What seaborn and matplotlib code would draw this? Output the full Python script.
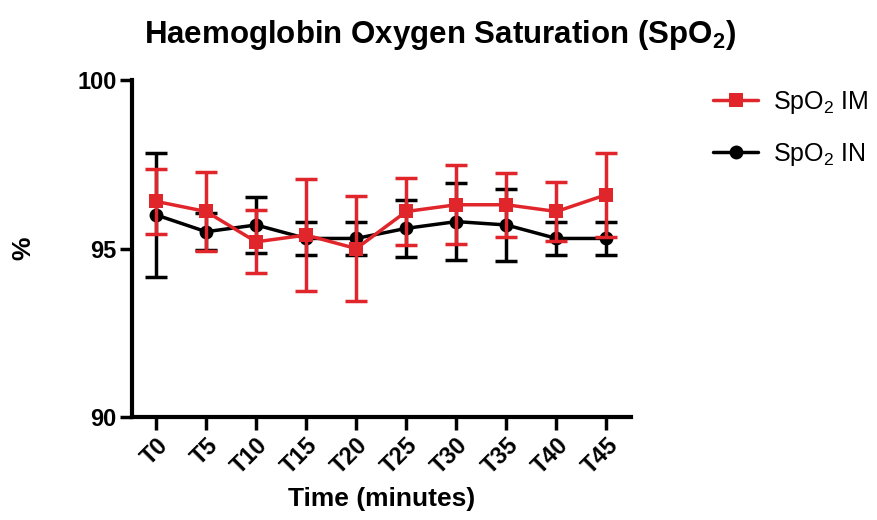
import numpy as np
import pandas as pd
import matplotlib
matplotlib.use("Agg")
import matplotlib.pyplot as plt
import seaborn as sns

# time points
times = ["T0", "T5", "T10", "T15", "T20", "T25", "T30", "T35", "T40", "T45"]

# SpO2 IN (black) mean and SD
in_mean = [96.0, 95.5, 95.7, 95.3, 95.3, 95.6, 95.8, 95.7, 95.3, 95.3]
in_sd = [1.83, 0.55, 0.82, 0.48, 0.48, 0.85, 1.15, 1.06, 0.48, 0.48]

# SpO2 IM (red) mean and SD
im_mean = [96.4, 96.1, 95.2, 95.4, 95.0, 96.1, 96.3, 96.3, 96.1, 96.6]
im_sd = [0.97, 1.18, 0.93, 1.65, 1.56, 1.0, 1.17, 0.95, 0.88, 1.25]

sns.set_style("ticks", rc={"axes.edgecolor": "black", "text.color": "black",
                           "axes.labelcolor": "black", "xtick.color": "black",
                           "ytick.color": "black"})
plt.rcParams["font.family"] = ["Liberation Sans", "DejaVu Sans"]
plt.rcParams["mathtext.fontset"] = "custom"
plt.rcParams["mathtext.rm"] = "Liberation Sans"
plt.rcParams["mathtext.bf"] = "Liberation Sans:bold"

red = "#e0262b"
lab_im = "SpO$_\\mathrm{2}$ IM"
lab_in = "SpO$_\\mathrm{2}$ IN"

df = pd.DataFrame({
    "t": list(range(len(times))) * 2,
    "mean": im_mean + in_mean,
    "group": [lab_im] * len(times) + [lab_in] * len(times),
})

fig = plt.figure(figsize=(8.77, 5.2), dpi=100)
ax = fig.add_axes([0.1505, 0.198, 0.569, 0.648])

x = np.arange(len(times))
# black first so red sits on top
ax.errorbar(x, in_mean, yerr=in_sd, fmt="none", ecolor="black",
            elinewidth=2.5, capsize=8, capthick=2.5, zorder=2)
ax.errorbar(x, im_mean, yerr=im_sd, fmt="none", ecolor=red,
            elinewidth=2.5, capsize=8, capthick=2.5, zorder=4)
sns.lineplot(data=df[df["group"] == lab_in], x="t", y="mean",
             color="black", marker="o", markersize=10, markeredgewidth=0,
             linewidth=2.5, ax=ax, zorder=3, label=lab_in)
sns.lineplot(data=df[df["group"] == lab_im], x="t", y="mean",
             color=red, marker="s", markersize=10.5, markeredgewidth=0,
             linewidth=2.5, ax=ax, zorder=5, label=lab_im)

ax.set_xlim(-0.48, 9.49)
ax.set_ylim(90, 100)
ax.set_yticks([90, 95, 100])
ax.set_xticks(x)
ax.set_xticklabels(times, rotation=45, ha="right", rotation_mode="anchor")

for lab in ax.get_xticklabels() + ax.get_yticklabels():
    lab.set_fontweight("bold")
    lab.set_fontsize(17)

ax.tick_params(axis="both", width=2.5, length=9, color="black")
ax.tick_params(axis="y", pad=2)
ax.tick_params(axis="x", pad=3)
for s in ["left", "bottom"]:
    ax.spines[s].set_linewidth(3)
sns.despine(ax=ax)

ax.set_xlabel("Time (minutes)", fontsize=19, fontweight="bold", labelpad=6)
ax.set_ylabel("%", fontsize=19, fontweight="bold", labelpad=30)

fig.suptitle("Haemoglobin Oxygen Saturation (SpO$_\\mathbf{2}$)",
             fontsize=22.5, fontweight="bold", x=0.502, y=0.965)

handles, labels = ax.get_legend_handles_labels()
order = [labels.index(lab_im), labels.index(lab_in)]
ax.legend([handles[i] for i in order], [labels[i] for i in order],
          loc="upper left", bbox_to_anchor=(1.12, 1.04), frameon=False,
          fontsize=18, handlelength=1.8, labelspacing=1.0, handletextpad=0.6)

fig.savefig("out.png", dpi=100)
